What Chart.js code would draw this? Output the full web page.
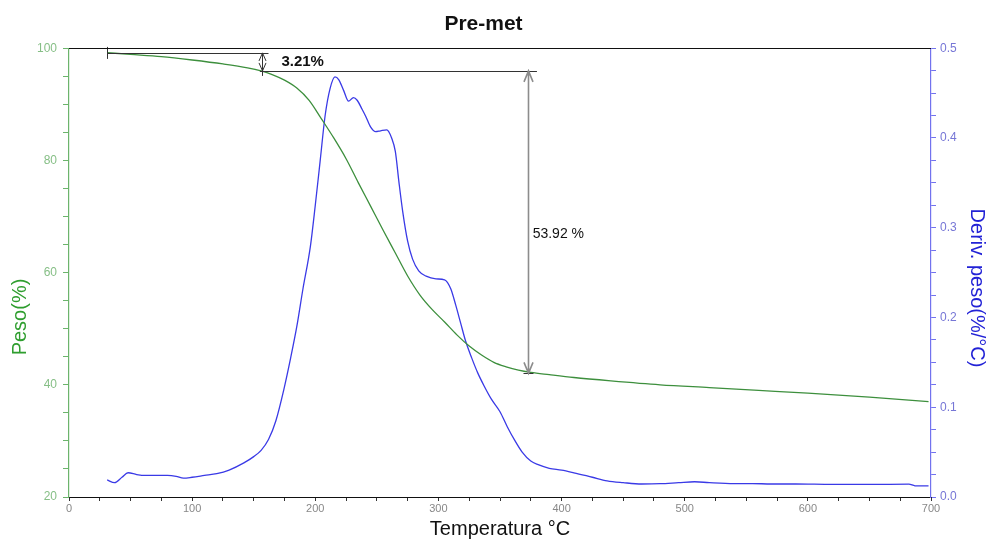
<!DOCTYPE html>
<html>
<head>
<meta charset="utf-8">
<script src="https://cdn.jsdelivr.net/npm/chart.js@4.4.1/dist/chart.umd.min.js"></script>
<style>
    html, body { margin: 0; padding: 0; background: #fff; }
    canvas { display: block; }
</style>
</head>
<body>
<canvas id="tga" width="990" height="542"></canvas>
<script>
// weight curve (left axis)
const tempWeight = [31, 50, 75, 100, 125, 145, 156, 165, 175, 185, 195, 205, 215, 225, 235, 245, 255, 265,
    275, 285, 295, 305, 315, 325, 335, 345, 355, 365, 375, 390, 410, 440, 480, 520, 560, 600, 650, 698];
const weight = [99.2, 98.9, 98.5, 97.9, 97.2, 96.5, 95.95, 95.3, 94.3, 92.9, 90.7, 87.4, 84.0, 80.3, 76.0, 71.8, 67.6, 63.5,
    59.4, 56.0, 53.4, 51.2, 48.9, 46.9, 45.3, 44.0, 43.2, 42.6, 42.2, 41.8, 41.3, 40.7, 40.0, 39.5, 39.0, 38.5, 37.8, 37.0];

// derivative curve (right axis)
const tempDeriv = [31, 37, 43, 48, 55, 62, 70, 80, 87, 93, 100, 110, 120, 130, 142, 150, 156, 162, 168, 174.5,
    180, 185, 190, 196, 200, 204, 208, 212, 216, 219, 223, 227, 231, 234, 238, 241, 245, 249, 253, 258,
    262, 265, 268, 271, 275, 279, 284, 290, 298, 305, 310, 314, 318, 322, 327, 332, 337, 343, 350, 356,
    362, 368, 375, 381, 390, 400, 410, 425, 437, 450, 465, 480, 495, 508, 520, 540, 555, 570, 590, 620,
    650, 682, 687, 698];
const deriv = [0.019, 0.016, 0.022, 0.027, 0.025, 0.024, 0.024, 0.024, 0.023, 0.021, 0.022, 0.024, 0.026, 0.030, 0.038, 0.045, 0.052, 0.064, 0.085, 0.120,
    0.155, 0.190, 0.232, 0.279, 0.325, 0.375, 0.425, 0.455, 0.468, 0.465, 0.453, 0.441, 0.445, 0.442, 0.432, 0.424, 0.412, 0.407, 0.408, 0.409,
    0.400, 0.385, 0.350, 0.318, 0.285, 0.265, 0.252, 0.246, 0.243, 0.242, 0.232, 0.214, 0.194, 0.174, 0.155, 0.138, 0.124, 0.109, 0.095, 0.078,
    0.063, 0.050, 0.040, 0.036, 0.032, 0.030, 0.027, 0.022, 0.018, 0.016, 0.0145, 0.0148, 0.016, 0.017, 0.016, 0.015, 0.015, 0.0145, 0.0145, 0.014,
    0.014, 0.0143, 0.0125, 0.0123];

// weight loss steps
const lossLevels = [99.16, 95.95, 42.03];
const lossTemps = [156.5, 373];
const lossLabels = ['3.21%', '53.92 %'];
const refLineSpans = [[31, 162], [155, 380]];

const FONT = '"Liberation Sans", Arial, sans-serif';

function every(step) {
    return v => Math.abs(v / step - Math.round(v / step)) < 1e-6;
}

const lossMarks = {
    id: 'lossMarks',
    afterDatasetsDraw(chart) {
        const { ctx, scales: { x, y } } = chart;
        const snap = v => Math.round(v) + 0.5;
        ctx.save();
        ctx.lineWidth = 1;
        ctx.strokeStyle = '#333';

        refLineSpans.forEach((span, i) => {
            const py = snap(y.getPixelForValue(lossLevels[i]));
            ctx.beginPath();
            ctx.moveTo(x.getPixelForValue(span[0]), py);
            ctx.lineTo(x.getPixelForValue(span[1]), py);
            ctx.stroke();
        });

        // end ticks
        const startX = snap(x.getPixelForValue(refLineSpans[0][0]));
        const startY = y.getPixelForValue(lossLevels[0]);
        ctx.beginPath();
        ctx.moveTo(startX, startY - 6);
        ctx.lineTo(startX, startY + 6);
        ctx.stroke();

        const midX = snap(x.getPixelForValue(lossTemps[0]));
        const midY = y.getPixelForValue(lossLevels[1]);
        ctx.beginPath();
        ctx.moveTo(midX, midY - 4);
        ctx.lineTo(midX, midY + 5);
        ctx.stroke();

        const endX = snap(x.getPixelForValue(lossTemps[1]));
        const endY = snap(y.getPixelForValue(lossLevels[2]));
        ctx.beginPath();
        ctx.moveTo(endX - 5, endY);
        ctx.lineTo(endX + 5, endY);
        ctx.stroke();

        // double arrows
        lossTemps.forEach((t, i) => {
            const px = snap(x.getPixelForValue(t));
            const y1 = y.getPixelForValue(lossLevels[i]);
            const y2 = y.getPixelForValue(lossLevels[i + 1]);
            const len = i ? 11 : 8, half = i ? 4.5 : 3.5;
            ctx.strokeStyle = i ? '#8c8c8c' : '#333';
            ctx.lineWidth = i ? 1.6 : 1;
            ctx.beginPath();
            ctx.moveTo(px, y1);
            ctx.lineTo(px, y2);
            ctx.moveTo(px - half, y1 + len);
            ctx.lineTo(px, y1);
            ctx.lineTo(px + half, y1 + len);
            ctx.moveTo(px - half, y2 - len);
            ctx.lineTo(px, y2);
            ctx.lineTo(px + half, y2 - len);
            ctx.stroke();
        });

        ctx.fillStyle = '#111';
        ctx.textAlign = 'left';
        ctx.textBaseline = 'middle';
        ctx.font = 'bold 15px ' + FONT;
        ctx.fillText(lossLabels[0], x.getPixelForValue(172.5), (y.getPixelForValue(lossLevels[0]) + y.getPixelForValue(lossLevels[1])) / 2);
        ctx.font = '14px ' + FONT;
        ctx.fillText(lossLabels[1], x.getPixelForValue(376.5), y.getPixelForValue(66.8));
        ctx.restore();
    }
};

const frame = {
    id: 'frame',
    afterDraw(chart) {
        const { ctx, chartArea } = chart;
        ctx.save();
        ctx.strokeStyle = '#111';
        ctx.lineWidth = 1;
        ctx.beginPath();
        ctx.moveTo(chartArea.left, Math.round(chartArea.top) + 0.5);
        ctx.lineTo(chartArea.right, Math.round(chartArea.top) + 0.5);
        ctx.stroke();

        ctx.textAlign = 'center';
        ctx.textBaseline = 'middle';
        ctx.font = '20px ' + FONT;
        ctx.fillStyle = '#2f9e2f';
        ctx.translate(20, 317);
        ctx.rotate(-Math.PI / 2);
        ctx.fillText('Peso(%)', 0, 0);
        ctx.restore();

        ctx.save();
        ctx.textAlign = 'center';
        ctx.textBaseline = 'middle';
        ctx.font = '20px ' + FONT;
        ctx.fillStyle = '#2222d6';
        ctx.translate(977, 288);
        ctx.rotate(Math.PI / 2);
        ctx.fillText('Deriv. peso(%/°C)', 0, 0);
        ctx.restore();
    }
};

const ctx = document.getElementById('tga').getContext('2d');
new Chart(ctx, {
    type: 'line',
    data: {
        datasets: [{
            label: 'Peso',
            data: tempWeight.map((t, i) => ({ x: t, y: weight[i] })),
            borderColor: '#3d8f3d',
            borderWidth: 1.3,
            pointRadius: 0,
            cubicInterpolationMode: 'monotone',
            yAxisID: 'y'
        }, {
            label: 'Deriv. peso',
            data: tempDeriv.map((t, i) => ({ x: t, y: deriv[i] })),
            borderColor: '#3a3ae6',
            borderWidth: 1.3,
            pointRadius: 0,
            cubicInterpolationMode: 'monotone',
            yAxisID: 'y1'
        }]
    },
    options: {
        responsive: false,
        animation: false,
        layout: { padding: { left: 0, right: 23, top: 0, bottom: 0 } },
        plugins: {
            legend: { display: false },
            tooltip: { enabled: false },
            title: {
                display: true,
                text: 'Pre-met',
                color: '#111',
                font: { family: FONT, size: 21, weight: 'bold' },
                padding: { top: 12, bottom: 11 }
            }
        },
        scales: {
            x: {
                type: 'linear',
                min: 0,
                max: 700,
                afterFit: s => { s.height = 45; },
                border: { color: '#111', width: 1 },
                grid: { drawOnChartArea: false, tickLength: 4, tickColor: '#333' },
                ticks: {
                    stepSize: 25,
                    autoSkip: false,
                    maxRotation: 0,
                    padding: 1,
                    color: '#888',
                    font: { family: FONT, size: 11 },
                    callback: v => every(100)(v) ? String(v) : ''
                },
                title: {
                    display: true,
                    text: 'Temperatura °C',
                    color: '#111',
                    font: { family: FONT, size: 20 },
                    padding: { top: 0, bottom: 1 }
                }
            },
            y: {
                position: 'left',
                min: 20,
                max: 100,
                afterFit: s => { s.width = 69; },
                border: { color: '#6cb46c', width: 1.2 },
                grid: { drawOnChartArea: false, tickLength: 6, tickColor: '#6cb46c' },
                ticks: {
                    stepSize: 5,
                    autoSkip: false,
                    padding: 6,
                    color: '#86bf86',
                    font: { family: FONT, size: 12 },
                    callback: v => every(20)(v) ? String(v) : ''
                }
            },
            y1: {
                position: 'right',
                min: 0,
                max: 0.5,
                afterFit: s => { s.width = 36; },
                border: { color: '#7272ee', width: 1.2 },
                grid: { drawOnChartArea: false, tickLength: 5, tickColor: '#7272ee' },
                ticks: {
                    stepSize: 0.025,
                    autoSkip: false,
                    padding: 4,
                    color: '#7676d6',
                    font: { family: FONT, size: 12 },
                    callback: v => every(0.1)(v) ? v.toFixed(1) : ''
                }
            }
        }
    },
    plugins: [lossMarks, frame]
});
</script>
</body>
</html>
